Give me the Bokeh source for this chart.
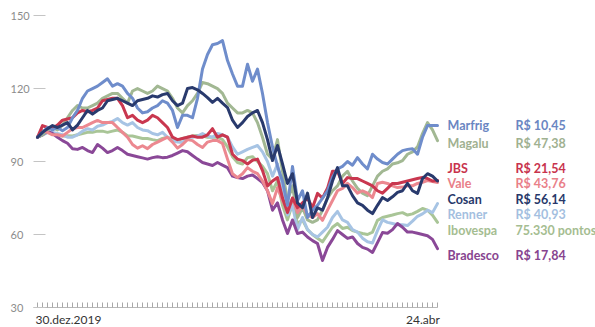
from bokeh.plotting import figure
from bokeh.models import ColumnDataSource, FixedTicker, Range1d, LinearAxis
from bokeh.core.properties import value
from bokeh.embed import file_html
from bokeh.resources import INLINE

# ---- data (index: trading day since 30.dez.2019, base 100) ----
days = list(range(81))
x_tick_labels = ["30.dez.2019", "24.abr"]
y_ticks = [30, 60, 90, 120, 150]

marfrig = [100,102,104,103,104,102.7,104,108,111,116,
           119,120,121,122.5,124,121,122,121,118,116,
           112,110,110.5,112,113,115,114,111,104,109,
           109,108,116,128,134,138,138.5,139.7,131.5,126,
           121,121,130,123,128,118,106,96,88,82,
           72,88,74,78,67,70,72,75,78,83.5,
           87,88,90,88.5,91.6,89,87,93,91,89.6,
           89,91,93,94.5,95,95.3,93,100,104.8,104.8,
           104.8]
magalu = [100,101,103,104,103,105,108,111,113,112,
          112,113,114,116,117,118,118,116,114,119,
          120,119,118,119,121,120,119,116,112,110,
          113,115,118,122.5,122,121,120,118,114,112,
          110,110,111,110,106,100,93,91,99,86,
          74,80,67,71,66,65,66,70,75,78,
          80,84,86,82,79,77,76,80,84,86,
          87,89,89.5,90.4,93,94,96,101.5,106,103,
          98.6]
jbs = [100,104.8,104,103.5,105,107,107.5,108,110,111,
       110.5,111,112,115,115.5,116,116,113,108,109,
       107,106,107,109,108,106,104,100,99,99.5,
       100,100.5,100,100,101,103.5,100,101,100,93,
       91,90.4,89,90.5,91,86.3,80,82,83.4,75,
       69,75,71,73,75,71,76.9,75,79,86,
       86,81,83.4,83,83,82,81,80,78,77,
       79,81,81,81.5,82,82.5,83,83.5,83,82,
       82.2]
vale = [100,102.8,102,101,101,100.5,102,103.5,104,104,
        105,106,106.9,106,106,106,104,102,100,97,
        95.5,96.5,95.3,97,98,99,100,98,95.5,97,
        99,98.6,97,95.8,98,98.6,98.6,97.4,91,85,
        83.4,85,87.5,86,85,82,78,72.7,79.3,74,
        70,75,69,72,68,67,68.6,65.8,70,74,
        78,79,81,79.3,77,78,77,75.2,81,81.5,
        81,80,79.3,79.5,80,80,81,81.5,82.2,81.8,
        81.4]
cosan = [100,102,103.5,104.8,104,105,106,103,105,108,
         111,109.5,111,112,115,115.5,116,115,114,113,
         115,115.5,116,117,116.5,117.5,118,115,113,114,
         120,120.4,119.5,118,116.3,114.3,116,114,112.2,107,
         104,106,108.5,110,111,106,99,90.4,96.6,89,
         81,85,73,71,77,67,71,70,75,82,
         87.5,80,80,76,73,72,70,68.6,72,75.2,
         74,75.5,77.3,78,81,78,76.9,83,85,84,
         82]
renner = [100,101,102,102,101.5,101,100,100,101,102.5,
          103.5,103,104.5,105,106,106.5,107.7,106,105,106,
          104,103,102.7,101.5,101,102,100,98.6,98,97.8,
          100,100,100.5,101.5,100.5,100,101.5,101,100,96,
          93,94,95,95.8,96.6,94,90,84,89,79,
          68,72,62,67,62,60,59,61,63,67,
          69.5,66,65,62,61,58.5,57,56.5,61.6,66,
          65,64.5,64,64,63.7,65.5,67.5,68.5,70,69,
          72.7]
ibovespa = [100,101,102,101.5,101,100.5,100.6,100.5,101,101.5,
            102,102,102.5,102.5,102,102.5,103,102,100.6,100.5,
            100,99.5,99.5,99,98.6,99.5,100,99,98.6,99.5,
            100,100.5,100.7,100.5,100,100,100,99,96,92,
            89.6,89,91.6,92,90,88,85,78,82,72,
            66,72.7,64.5,66,62,60,58.5,57,60,63,
            64.5,62.5,63,61.6,61,60.4,60,61,65.8,67,
            67.5,68,68.6,69,68,68.5,69.5,70.7,70,68,
            65]
bradesco = [100,101,102.5,101.5,100,98.6,97.5,95.3,95,95.8,
            94.5,93.7,97,95.5,93.7,94.5,95.8,94.5,93,92.5,
            92,91.5,91,91.6,92,91.6,91.8,92.5,93.5,94.5,
            94,92.5,91,89.6,89,88.4,89.6,88.5,87.5,84,
            83.4,83,84,84.5,83,81.4,78,70,73,66,
            60.4,66,60.4,61,59,57.5,56.3,49.3,54.7,58,
            61.6,60,58.4,59,56.3,54.7,54,52.6,56.7,60.8,
            60.5,62,64.5,63,61,61,60.5,60,59.5,58,
            54.2]

names = ["Marfrig", "Magalu", "JBS", "Vale", "Cosan", "Renner", "Ibovespa", "Bradesco"]
prices = ["R$ 10,45", "R$ 47,38", "R$ 21,54", "R$ 43,76", "R$ 56,14", "R$ 40,93",
          "75.330 pontos", "R$ 17,84"]

# ---- styling ----
FONT = "Lato"
line_colors = {"Marfrig": "#6f8dcb", "Magalu": "#a2b893", "JBS": "#c9374f", "Vale": "#ec8890",
               "Cosan": "#293a6d", "Renner": "#a7c4e4", "Ibovespa": "#a9c597", "Bradesco": "#8a4897"}
label_colors = {"Marfrig": "#6a86c2", "Magalu": "#9fb191", "JBS": "#c8334d", "Vale": "#e98089",
                "Cosan": "#27386a", "Renner": "#a4bfdf", "Ibovespa": "#a5bd91", "Bradesco": "#87448f"}
label_y = [104.8, 97.4, 87.1, 81.0, 74.4, 68.2, 61.6, 51.4]

series = {"Marfrig": marfrig, "Magalu": magalu, "JBS": jbs, "Vale": vale, "Cosan": cosan,
          "Renner": renner, "Ibovespa": ibovespa, "Bradesco": bradesco}
draw_order = ["Ibovespa", "Renner", "Bradesco", "Magalu", "Vale", "JBS", "Marfrig", "Cosan"]

p = figure(frame_width=595, frame_height=327, output_backend="svg", toolbar_location=None,
           x_range=Range1d(-7.4, 111.6), y_range=Range1d(21.78, 156.2),
           min_border_left=0, min_border_right=0, min_border_top=0, min_border_bottom=0,
           x_axis_location=None, y_axis_location=None)
p.outline_line_color = None
p.grid.grid_line_color = None
p.background_fill_color = "white"
p.border_fill_color = "white"

xaxis = LinearAxis(
    fixed_location=30,
    ticker=FixedTicker(ticks=[6.2, 77.1], minor_ticks=days),
    major_label_overrides={6.2: x_tick_labels[0], 77.1: x_tick_labels[1]},
    bounds=(-0.8, 80),
    axis_line_color="#b8b8b8", axis_line_width=1,
    major_tick_line_color=None,
    minor_tick_line_color="#a8a8a8", minor_tick_in=5, minor_tick_out=0,
    major_label_standoff=-2,
    major_label_text_font=FONT, major_label_text_font_size="12px",
    major_label_text_color="#333333",
)
p.add_layout(xaxis, "below")

yaxis = LinearAxis(
    fixed_location=-0.8,
    ticker=FixedTicker(ticks=y_ticks),
    major_label_overrides={t: "" for t in y_ticks},
    axis_line_color=None,
    major_tick_line_color="#c4c4c4", major_tick_in=12, major_tick_out=0,
    minor_tick_line_color=None, major_label_standoff=0,
    major_label_text_font_size="1px",
)
p.add_layout(yaxis, "left")

ysrc = ColumnDataSource(dict(y=y_ticks, x=[-5.4] * len(y_ticks), t=[str(t) for t in y_ticks]))
p.text(x="x", y="y", text="t", source=ysrc, text_align="left", text_baseline="middle",
       text_font=value(FONT), text_font_size="11px", text_color="#8c8c8c")

for n in draw_order:
    p.line(days, series[n], line_color=line_colors[n], line_width=3,
           line_join="round", line_cap="round")

src = ColumnDataSource(dict(
    name=names, price=prices, y=label_y,
    xn=[82.0] * len(names), xp=[95.6] * len(names),
    color=[label_colors[n] for n in names]))
p.text(x="xn", y="y", text="name", source=src, text_color="color",
       text_font=value(FONT), text_font_style="bold", text_font_size="12.5px",
       text_baseline="middle", text_align="left")
p.text(x="xp", y="y", text="price", source=src, text_color="color",
       text_font=value(FONT), text_font_style="bold", text_font_size="12.5px",
       text_baseline="middle", text_align="left")

open("out.html", "w").write(file_html(p, INLINE))
